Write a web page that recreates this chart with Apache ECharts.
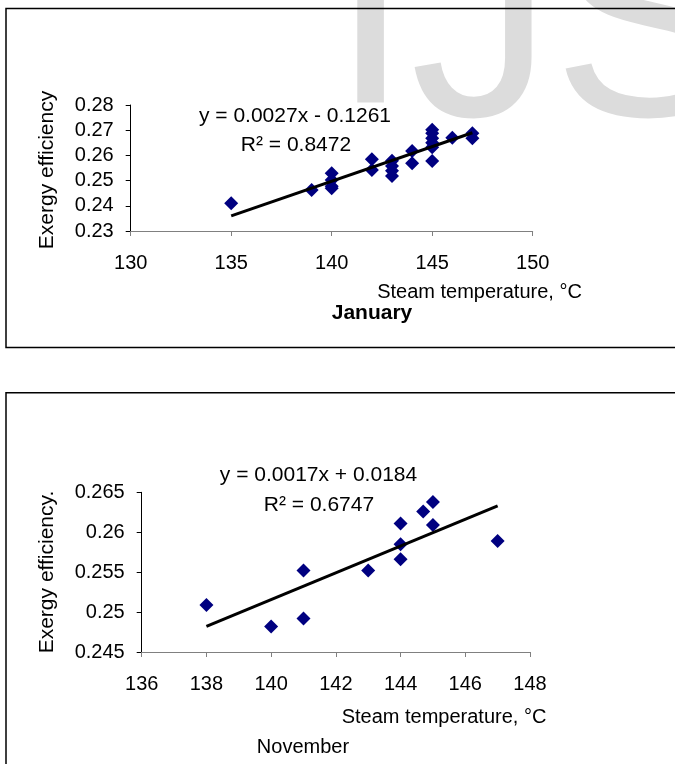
<!DOCTYPE html>
<html>
<head>
<meta charset="utf-8">
<script src="https://cdn.jsdelivr.net/npm/echarts@6/dist/echarts.min.js"></script>
<style>
  html, body { margin: 0; padding: 0; background: #fff; }
  #chart { width: 675px; height: 764px; }
</style>
</head>
<body>
<div id="chart"></div>
<script>
// January: steam temperature (C) vs exergy efficiency
var janTemp = [135, 139, 140, 140, 140, 140, 142, 142, 143, 143, 143, 143, 144, 144, 145, 145, 145, 145, 145, 145, 146, 147, 147];
var janEff = [0.241, 0.2463, 0.2529, 0.2502, 0.2478, 0.247, 0.2585, 0.2542, 0.2579, 0.2558, 0.2539, 0.2518, 0.2617, 0.2569, 0.2702, 0.2688, 0.2668, 0.265, 0.2632, 0.2578, 0.267, 0.2688, 0.2668];
var janFitTemp = [135, 147];
var janFitEff = [0.236, 0.269];
var janTicksX = [130, 135, 140, 145, 150];
var janTicksY = [0.23, 0.24, 0.25, 0.26, 0.27, 0.28];

// November
var novTemp = [138, 140, 141, 141, 143, 144, 144, 144, 144.7, 145, 145, 147];
var novEff = [0.2509, 0.2482, 0.2552, 0.2492, 0.2552, 0.2611, 0.2585, 0.2566, 0.2626, 0.2638, 0.2609, 0.2589];
var novFitTemp = [138, 147];
var novFitEff = [0.2482, 0.2633];
var novTicksX = [136, 138, 140, 142, 144, 146, 148];
var novTicksY = [0.245, 0.25, 0.255, 0.26, 0.265];

var FONT = "'Liberation Sans', Arial, sans-serif";

function pairs(xs, ys) {
    var out = [];
    for (var i = 0; i < xs.length; i++) {
        out.push([xs[i], ys[i]]);
    }
    return out;
}

function xAxisFor(ticks, grid) {
    return {
        type: 'value',
        gridIndex: grid,
        min: ticks[0],
        max: ticks[ticks.length - 1],
        interval: ticks[1] - ticks[0],
        axisLine: { show: true, onZero: false, lineStyle: { color: '#808080', width: 1 } },
        axisTick: { show: true, inside: false, length: 5, lineStyle: { color: '#808080' } },
        axisLabel: { color: '#000', fontSize: 20, fontFamily: FONT, margin: 22 },
        splitLine: { show: false }
    };
}

function yAxisFor(ticks, grid) {
    return {
        type: 'value',
        gridIndex: grid,
        min: ticks[0],
        max: ticks[ticks.length - 1],
        interval: +(ticks[1] - ticks[0]).toFixed(4),
        axisLine: { show: true, onZero: false, lineStyle: { color: '#000', width: 1 } },
        axisTick: { show: true, inside: false, length: 5, lineStyle: { color: '#000' } },
        axisLabel: { color: '#000', fontSize: 20, fontFamily: FONT, margin: 17 },
        splitLine: { show: false }
    };
}

function txt(text, x, y, size, opts) {
    opts = opts || {};
    var style = {
        text: text,
        fill: '#000',
        fontSize: size,
        fontFamily: FONT,
        fontWeight: opts.bold ? 'bold' : 'normal',
        align: 'center',
        verticalAlign: 'middle'
    };
    if (opts.box) {
        // white label box, hides the watermark behind it
        style.backgroundColor = '#fff';
        style.padding = [2, 3, 4, 3];
    }
    return {
        type: 'text',
        x: x,
        y: y,
        rotation: opts.rotation || 0,
        z: 20,
        style: style
    };
}

var chart = echarts.init(document.getElementById('chart'), null, { renderer: 'canvas' });

chart.setOption({
    backgroundColor: '#fff',
    animation: false,
    grid: [
        { left: 130.7, top: 105, width: 402, height: 126 },
        { left: 141.7, top: 492.3, width: 388.3, height: 159.7 }
    ],
    xAxis: [xAxisFor(janTicksX, 0), xAxisFor(novTicksX, 1)],
    yAxis: [yAxisFor(janTicksY, 0), yAxisFor(novTicksY, 1)],
    graphic: [
        // faint watermark behind the charts
        {
            type: 'text', x: 331, y: 37, z: 0, silent: true,
            style: { text: 'IJS', fill: '#dcdcdc', fontSize: 285, fontFamily: FONT, align: 'left', verticalAlign: 'middle' }
        },
        { type: 'rect', z: 30, shape: { x: 6, y: 8.5, width: 720, height: 339 }, style: { fill: 'none', stroke: '#000', lineWidth: 1.5 } },
        { type: 'rect', z: 30, shape: { x: 6, y: 392.7, width: 720, height: 420 }, style: { fill: 'none', stroke: '#000', lineWidth: 1.5 } },

        txt('y = 0.0027x - 0.1261', 295, 116, 21, { box: true }),
        txt('R\u00b2 = 0.8472', 296, 145, 21),
        txt('Exergy efficiency', 47.5, 170, 21, { rotation: Math.PI / 2 }),
        txt('Steam temperature, \u00b0C', 479.5, 292, 20),
        txt('January', 372, 313, 21, { bold: true }),

        txt('y = 0.0017x + 0.0184', 318.5, 475, 21),
        txt('R\u00b2 = 0.6747', 319, 505, 21),
        txt('Exergy efficiency.', 47, 572, 21, { rotation: Math.PI / 2 }),
        txt('Steam temperature, \u00b0C', 444, 717, 20),
        txt('November', 303, 747, 20)
    ],
    series: [
        {
            name: 'January',
            type: 'scatter',
            xAxisIndex: 0,
            yAxisIndex: 0,
            symbol: 'diamond',
            symbolSize: 14,
            itemStyle: { color: '#000080', opacity: 1 },
            data: pairs(janTemp, janEff)
        },
        {
            name: 'January trend',
            type: 'line',
            xAxisIndex: 0,
            yAxisIndex: 0,
            showSymbol: false,
            symbol: 'none',
            lineStyle: { color: '#000', width: 3 },
            data: pairs(janFitTemp, janFitEff),
            z: 3
        },
        {
            name: 'November',
            type: 'scatter',
            xAxisIndex: 1,
            yAxisIndex: 1,
            symbol: 'diamond',
            symbolSize: 14,
            itemStyle: { color: '#000080', opacity: 1 },
            data: pairs(novTemp, novEff)
        },
        {
            name: 'November trend',
            type: 'line',
            xAxisIndex: 1,
            yAxisIndex: 1,
            showSymbol: false,
            symbol: 'none',
            lineStyle: { color: '#000', width: 3 },
            data: pairs(novFitTemp, novFitEff),
            z: 3
        }
    ]
});
</script>
</body>
</html>
